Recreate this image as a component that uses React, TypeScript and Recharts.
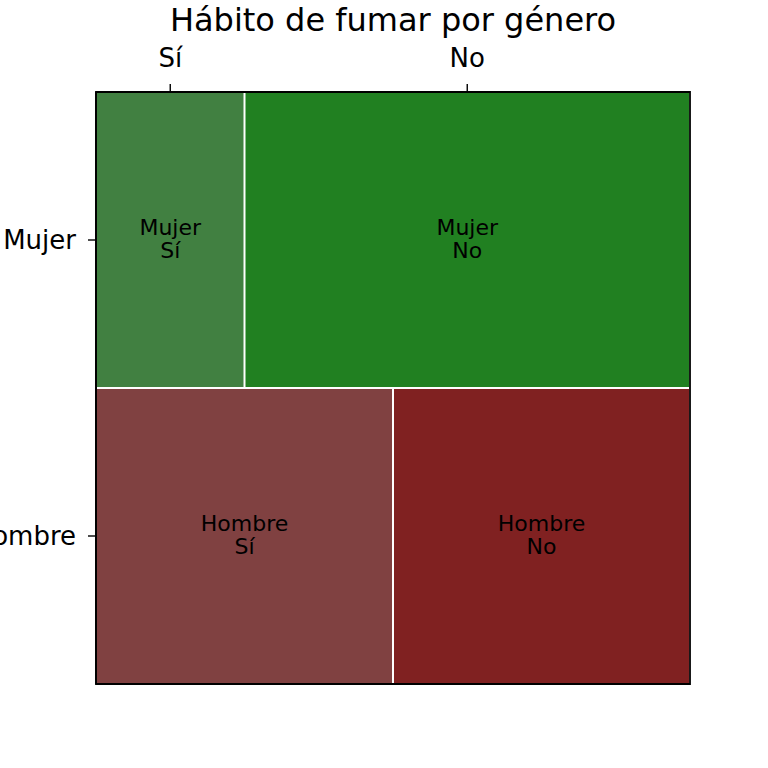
import { BarChart, Bar, XAxis, YAxis, Cell, LabelList, ReferenceArea } from "recharts";

const generos = ["Mujer", "Hombre"];
const habitos = ["Sí", "No"];
const proporcionSi = [0.25, 0.5];
const proporcionNo = [0.75, 0.5];

const data = generos.map((genero, i) => ({
  genero,
  si: proporcionSi[i],
  no: proporcionNo[i],
}));

// ticks superiores centrados en las celdas de la primera fila
const ticksSuperiores = [
  proporcionSi[0] / 2,
  proporcionSi[0] + proporcionNo[0] / 2,
];

const colores = {
  Mujer: ["#418041", "#218021"],
  Hombre: ["#804141", "#802121"],
};

const fuente = "DejaVu Sans";

// celda con un pequeño hueco blanco alrededor (como el mosaico de statsmodels)
const Celda = (props) => {
  const { x, y, width, height, fill } = props;
  return (
    <rect
      x={x + 1}
      y={y + 1}
      width={Math.max(width - 2, 0)}
      height={Math.max(height - 2, 0)}
      fill={fill}
    />
  );
};

const renderEtiqueta = (habito) => (props) => {
  const vb = props.viewBox ?? props;
  const cx = Number(vb.x) + Number(vb.width) / 2;
  const cy = Number(vb.y) + Number(vb.height) / 2;
  return (
    <text
      x={cx}
      y={cy}
      textAnchor="middle"
      fontSize={22}
      fontFamily={fuente}
      fill="#000"
    >
      <tspan x={cx} dy={-5}>
        {props.value}
      </tspan>
      <tspan x={cx} dy={23}>
        {habito}
      </tspan>
    </text>
  );
};

const ejeNegro = { stroke: "#000", strokeWidth: 1.8 };

const App = () => {
  return (
    <div style={{ position: "absolute", left: 0, top: 0, width: 768, height: 768 }}>
      <div
        style={{
          position: "absolute",
          left: 93,
          width: 600,
          top: 4,
          textAlign: "center",
          fontFamily: fuente,
          fontSize: 32,
          lineHeight: "32px",
          color: "#000",
        }}
      >
        Hábito de fumar por género
      </div>
      <BarChart
        width={768}
        height={768}
        data={data}
        layout="vertical"
        barCategoryGap={0}
        barGap={0}
        margin={{ top: 40, right: 78, bottom: 84, left: 0 }}
      >
        <Bar
          dataKey="si"
          stackId="a"
          xAxisId="top"
          shape={Celda}
          isAnimationActive={false}
        >
          {data.map((d) => (
            <Cell key={d.genero} fill={colores[d.genero][0]} />
          ))}
          <LabelList dataKey="genero" content={renderEtiqueta(habitos[0])} />
        </Bar>
        <Bar
          dataKey="no"
          stackId="a"
          xAxisId="top"
          shape={Celda}
          isAnimationActive={false}
        >
          {data.map((d) => (
            <Cell key={d.genero} fill={colores[d.genero][1]} />
          ))}
          <LabelList dataKey="genero" content={renderEtiqueta(habitos[1])} />
        </Bar>
        <ReferenceArea
          xAxisId="top"
          x1={0}
          x2={1}
          fill="none"
          fillOpacity={0}
          stroke="#000"
          strokeWidth={1.8}
          strokeOpacity={1}
        />
        <XAxis
          xAxisId="top"
          type="number"
          orientation="top"
          domain={[0, 1]}
          ticks={ticksSuperiores}
          tickFormatter={(v, i) => habitos[i]}
          height={52}
          tickSize={8}
          tickMargin={17}
          axisLine={ejeNegro}
          tickLine={{ stroke: "#000", strokeWidth: 1.4 }}
          tick={{ fill: "#000", fontSize: 26, fontFamily: fuente }}
          interval={0}
        />
        <YAxis
          type="category"
          dataKey="genero"
          width={96}
          tickSize={8}
          tickMargin={12}
          axisLine={ejeNegro}
          tickLine={{ stroke: "#000", strokeWidth: 1.4 }}
          tick={{ fill: "#000", fontSize: 26, fontFamily: fuente }}
        />
      </BarChart>
    </div>
  );
};

export default App;
